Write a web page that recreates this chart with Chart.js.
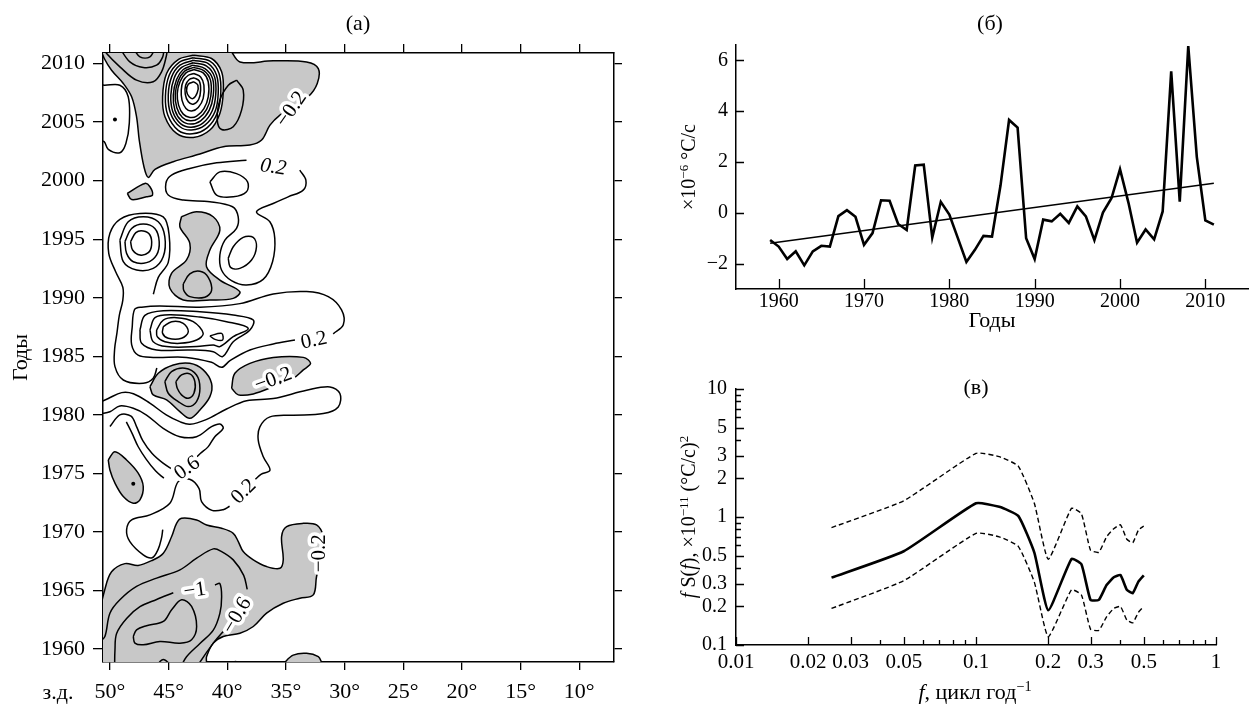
<!DOCTYPE html>
<html lang="ru">
<head>
    <meta charset="UTF-8">
    <title>Годы / спектр</title>
    <script src="https://cdn.jsdelivr.net/npm/chart.js"></script>
    <style>
        body { margin: 0; background: #fff; font-family: "Liberation Serif", serif; }
        #wrap { position: relative; width: 1256px; height: 706px; overflow: hidden; background: #fff; }
        canvas { position: absolute; }
        .txt { position: absolute; font-size: 22px; color: #000; white-space: nowrap; line-height: 1; transform: translate(-50%, -50%); }
        .rot { transform: translate(-50%, -50%) rotate(-90deg); font-size: 20px; }
        sup { font-size: 0.65em; vertical-align: 0.55em; line-height: 0; }
    </style>
</head>
<body>
<div id="wrap">
    <canvas id="mapChart" style="left:0;top:0" width="640" height="706"></canvas>
    <canvas id="seriesChart" style="left:640px;top:0" width="616" height="345"></canvas>
    <canvas id="spectrumChart" style="left:640px;top:345px" width="616" height="361"></canvas>
    <div class="txt" style="left:358px;top:23px">(а)</div>
    <div class="txt" style="left:990px;top:23px">(б)</div>
    <div class="txt" style="left:976px;top:387px">(в)</div>
    <div class="txt" style="left:58px;top:692px">з.д.</div>
    <div class="txt rot" style="left:688px;top:167px">×10<sup>−6</sup> °C/c</div>
    <div class="txt rot" style="left:688px;top:517px"><i>f</i> S(<i>f</i>), ×10<sup>−11</sup> (°C/c)<sup>2</sup></div>
    <div class="txt" style="left:975px;top:692px"><i>f</i>, цикл год<sup>−1</sup></div>
</div>
<script>
    Chart.defaults.font.family = '"Liberation Serif", serif';
    Chart.defaults.color = '#000';

    // ---------- (а) contour map: lon (°W), year ----------
    const lonTicks = [50, 45, 40, 35, 30, 25, 20, 15, 10];
    const yearTicks = [1960, 1965, 1970, 1975, 1980, 1985, 1990, 1995, 2000, 2005, 2010];

    // shaded (negative) areas
    const negTop = [[50.8,2011.3],[40.06,2011.3],[38.92,2010.14],[36.08,2010.23],[33.24,2010.14],[32.24,2009.57],[32.33,2008.3],[33.1,2007.16],[34.38,2006.3],[35.51,2005.6],[36.36,2004.74],[37.07,2003.47],[38.07,2003.04],[40.34,2002.9],[42.33,2002.27],[44.6,2001.62],[46.16,2000.97],[46.73,2000.28],[47.1,2001.19],[47.5,2003.47],[47.73,2005.45],[48.15,2007.16],[48.86,2008.3],[49.86,2009.43],[50.48,2010.43],[50.8,2011.3]];
    const negSmall = [[48.52,1998.91],[47.02,1999.76],[46.59,1999.48],[46.37,1998.77],[46.88,1998.62],[48.15,1998.39],[48.52,1998.91]];
    const negMid = [[43.9,1996.92],[42.62,1997.34],[41.2,1996.92],[40.63,1995.78],[41.48,1994.07],[41.77,1992.65],[40.63,1991.51],[38.93,1990.52],[39.49,1989.95],[41.48,1989.81],[43.75,1989.81],[44.89,1990.81],[44.75,1992.09],[43.47,1993.23],[43.19,1994.65],[44.04,1996.07],[43.9,1996.92]];
    const neg1982 = [[46.59,1982.41],[45.88,1983.55],[44.6,1984.26],[43.19,1984.4],[42.05,1983.84],[41.34,1982.7],[41.48,1981.56],[42.33,1980.42],[43.19,1979.71],[44.04,1980.28],[45.17,1981.28],[46.31,1981.71],[46.59,1982.41]];
    const neg1983E = [[39.63,1982.27],[39.35,1983.55],[38.07,1984.4],[36.08,1984.91],[33.52,1984.91],[32.9,1984.4],[33.52,1983.84],[34.38,1983.12],[36.08,1982.41],[37.78,1981.79],[39.06,1981.71],[39.63,1982.27]];
    const neg1974 = [[50.14,1976.15],[49.57,1976.86],[48.58,1976.15],[47.59,1975.02],[47.16,1973.88],[47.44,1972.74],[48.01,1972.46],[48.86,1973.03],[49.57,1974.17],[50.0,1975.3],[50.14,1976.15]];
    const negBottom = [[50.9,1958.5],[50.9,1962.8],[50.43,1965.1],[49.86,1966.6],[48.72,1967.3],[47.6,1967.15],[46.45,1967.55],[45.45,1968.19],[44.74,1969.61],[44.32,1970.74],[43.89,1971.17],[42.61,1971.03],[41.76,1970.6],[40.48,1970.32],[39.49,1969.89],[39.06,1969.18],[38.64,1968.33],[37.78,1967.62],[36.65,1967.05],[35.51,1966.9],[35.23,1967.62],[35.37,1969.61],[34.94,1970.46],[33.52,1970.74],[32.39,1970.6],[31.82,1969.61],[31.9,1968.2],[32.39,1966.2],[32.67,1964.63],[33.81,1964.35],[35.23,1963.92],[36.65,1963.07],[37.78,1961.93],[38.92,1961.36],[40.34,1961.08],[41.19,1960.51],[41.76,1959.37],[41.9,1958.5],[50.9,1958.5]];
    const negBottomE = [[35.3,1958.5],[35.09,1958.87],[34.38,1959.49],[33.24,1959.64],[32.24,1959.35],[31.96,1958.87],[31.8,1958.5],[35.3,1958.5]];

    // unshaded hole inside the top shaded area
    const peakRing1 = [[42.9,2010.71],[41.34,2010.43],[40.48,2009.29],[40.34,2007.59],[40.63,2005.74],[41.48,2004.32],[42.9,2003.69],[44.32,2004.03],[45.31,2005.45],[45.51,2007.16],[45.17,2009.15],[44.18,2010.34],[42.9,2010.71]];

    // contour lines
    const peakRing1b = [[42.9,2010.5],[41.48,2010.2],[40.7,2009.15],[40.55,2007.5],[40.84,2005.8],[41.7,2004.53],[42.97,2004.0],[44.18,2004.3],[45.07,2005.6],[45.27,2007.23],[44.95,2009.0],[44.1,2010.1],[42.9,2010.5]];
    const peakRing2 = [[42.9,2010.28],[41.62,2010.0],[40.91,2009.0],[40.77,2007.44],[41.05,2005.88],[41.9,2004.74],[43.04,2004.32],[44.03,2004.6],[44.83,2005.74],[45.03,2007.3],[44.74,2008.86],[44.03,2009.86],[42.9,2010.28]];
    const peakRing2b = [[42.9,2010.07],[41.76,2009.78],[41.08,2008.86],[40.98,2007.37],[41.29,2005.95],[42.08,2004.92],[43.08,2004.57],[43.96,2004.85],[44.64,2005.88],[44.81,2007.3],[44.53,2008.75],[43.89,2009.67],[42.9,2010.07]];
    const peakRing3 = [[42.9,2009.86],[41.9,2009.57],[41.25,2008.72],[41.19,2007.3],[41.53,2006.02],[42.27,2005.11],[43.13,2004.83],[43.89,2005.11],[44.46,2006.02],[44.6,2007.3],[44.32,2008.64],[43.75,2009.49],[42.9,2009.86]];
    const peakRing3b = [[42.87,2009.67],[41.97,2009.38],[41.43,2008.58],[41.4,2007.23],[41.76,2006.09],[42.44,2005.31],[43.15,2005.11],[43.82,2005.4],[44.3,2006.23],[44.43,2007.37],[44.17,2008.54],[43.63,2009.35],[42.87,2009.67]];
    const peakRing4 = [[42.84,2009.49],[42.05,2009.2],[41.62,2008.44],[41.62,2007.16],[41.99,2006.16],[42.61,2005.51],[43.18,2005.4],[43.75,2005.68],[44.15,2006.45],[44.26,2007.44],[44.03,2008.44],[43.52,2009.2],[42.84,2009.49]];
    const peakRing5 = [[42.84,2009.15],[42.27,2008.86],[41.99,2008.15],[42.05,2007.02],[42.47,2006.25],[43.04,2005.94],[43.52,2006.16],[43.86,2006.88],[43.92,2007.73],[43.75,2008.52],[43.32,2009.0],[42.84,2009.15]];
    const peakRing6 = [[42.81,2008.78],[42.39,2008.52],[42.27,2007.73],[42.44,2006.93],[42.9,2006.53],[43.32,2006.73],[43.58,2007.39],[43.55,2008.15],[43.24,2008.64],[42.81,2008.78]];
    const peakRing7 = [[42.84,2008.44],[42.5,2008.15],[42.56,2007.5],[42.9,2007.02],[43.24,2007.16],[43.47,2007.67],[43.32,2008.24],[42.84,2008.44]];
    const topArc1 = [[50.5,2011.3],[50.28,2010.85],[49.15,2009.72],[47.73,2008.58],[46.31,2008.44],[45.6,2009.29],[45.2,2010.6],[45.1,2011.3]];
    const topArc2 = [[49.15,2011.3],[48.3,2010.14],[47.16,2009.66],[46.02,2009.86],[45.5,2010.57],[45.4,2011.3]];
    const topArc3 = [[48.0,2011.3],[47.44,2010.57],[46.59,2010.57],[46.16,2011.3]];
    const oval2007E = [[39.2,2008.58],[38.64,2007.73],[38.78,2006.02],[39.49,2004.6],[40.48,2004.37],[40.85,2005.17],[40.63,2006.88],[39.91,2008.15],[39.2,2008.58]];
    const oval2005W = [[50.8,2008.2],[50.48,2008.15],[49.15,2008.15],[48.44,2007.16],[48.35,2004.89],[48.64,2003.18],[49.15,2002.39],[50.14,2002.67],[50.48,2003.32],[50.8,2003.4]];
    const pos1999 = [[33.82,2000.9],[33.3,2000.05],[33.53,1999.19],[34.81,1998.62],[36.09,1998.05],[37.51,1997.34],[36.37,1996.49],[35.95,1995.07],[36.14,1993.08],[36.94,1991.57],[38.36,1991.09],[39.64,1991.46],[40.49,1992.37],[40.63,1993.65],[40.2,1994.93],[39.21,1995.92],[39.07,1996.92],[39.55,1997.77],[41.48,1998.2],[43.75,1998.34],[45.03,1998.77],[45.23,1999.76],[44.75,2000.47],[43.19,2001.04],[40.91,2001.52],[38.36,2001.75]];
    const pos1999Inner = [[41.48,1999.9],[40.63,2000.75],[39.21,2000.6],[38.27,1999.9],[38.36,1999.05],[39.49,1998.62],[40.91,1998.77],[41.48,1999.9]];
    const pos1994Inner = [[39.92,1993.36],[39.49,1994.36],[38.64,1995.16],[37.79,1995.16],[37.51,1994.36],[37.93,1993.22],[38.93,1992.51],[39.72,1992.6],[39.92,1993.36]];
    const neg1991Inner = [[43.75,1991.18],[43.19,1992.04],[42.33,1992.26],[41.62,1991.75],[41.34,1990.61],[41.91,1990.05],[43.19,1990.1],[43.7,1990.61],[43.75,1991.18]];
    const west1995a = [[49.15,1994.93],[48.44,1996.49],[47.16,1996.92],[45.88,1996.49],[45.32,1995.21],[45.46,1993.5],[46.31,1992.51],[47.73,1992.37],[48.86,1993.08],[49.15,1994.93]];
    const west1995b = [[48.72,1994.79],[48.15,1995.92],[47.16,1996.3],[46.17,1995.92],[45.8,1994.79],[46.03,1993.65],[46.88,1993.0],[48.01,1993.08],[48.58,1993.79],[48.72,1994.79]];
    const west1995c = [[48.24,1994.79],[47.79,1995.56],[47.16,1995.7],[46.59,1995.36],[46.45,1994.5],[46.73,1993.85],[47.44,1993.65],[48.07,1994.08],[48.24,1994.79]];
    const westLong = [[46.3,1990.3],[45.88,1991.74],[45.03,1993.02],[44.95,1995.3],[45.46,1996.9],[47.44,1997.2],[49.15,1996.7],[50.0,1995.5],[50.1,1993.8],[49.5,1992.2],[48.9,1990.9],[48.9,1989.8],[49.2,1988.5],[49.4,1987.0],[49.6,1985.6],[49.57,1984.12],[48.86,1982.98],[47.16,1982.7],[46.31,1983.13],[46.0,1984.0]];
    const peak1987a = [[45.45,1987.53],[44.74,1987.96],[43.75,1987.82],[43.32,1987.1],[43.89,1986.54],[45.03,1986.54],[45.51,1986.96],[45.45,1987.53]];
    const peak1987b = [[46.02,1987.25],[45.45,1988.1],[44.32,1988.3],[42.9,1987.96],[42.05,1986.96],[42.61,1986.39],[44.03,1986.11],[45.31,1986.25],[45.97,1986.68],[46.02,1987.25]];
    const peak1987c = [[46.59,1987.25],[46.16,1988.3],[44.89,1988.55],[42.33,1988.35],[40.06,1987.96],[38.21,1987.39],[39.49,1986.68],[40.63,1985.83],[41.19,1985.97],[42.61,1985.83],[45.17,1985.83],[46.31,1986.25],[46.59,1987.25]];
    const peak1987d = [[47.44,1987.25],[47.02,1988.5],[45.45,1988.9],[42.33,1988.8],[39.49,1988.52],[37.78,1988.1],[38.07,1987.25],[39.49,1986.25],[40.4,1984.97],[41.19,1985.4],[43.18,1985.54],[46.02,1985.54],[47.3,1986.11],[47.44,1987.25]];
    const small1986 = [[41.48,1986.74],[40.48,1986.96],[40.4,1986.39],[41.05,1986.45],[41.48,1986.74]];
    const tongue1988 = [[30.97,1986.92],[30.11,1987.69],[30.26,1988.97],[31.39,1990.1],[33.24,1990.53],[36.08,1990.33],[38.92,1989.5],[42.33,1989.2],[45.74,1989.3],[47.3,1989.2],[47.9,1989.0],[48.1,1987.5],[48.15,1986.0],[47.6,1985.1],[46.31,1984.91],[43.47,1984.91],[41.34,1984.49],[40.48,1984.06],[39.77,1984.63],[38.07,1985.54],[36.08,1986.05],[34.23,1986.39]];
    const neg1982Ring = [[45.32,1982.84],[44.75,1983.69],[43.61,1983.98],[42.62,1983.41],[42.33,1982.27],[42.62,1981.14],[43.33,1980.71],[44.18,1981.14],[45.03,1981.85],[45.32,1982.84]];
    const neg1982Inner = [[44.38,1982.84],[43.9,1983.41],[43.19,1983.5],[42.76,1982.84],[42.84,1981.85],[43.33,1981.42],[43.9,1981.71],[44.26,1982.27],[44.38,1982.84]];
    const tongue1981 = [[50.8,1981.1],[50.14,1981.4],[49.0,1981.9],[48.0,1981.8],[46.6,1981.0],[45.2,1980.0],[44.0,1979.4],[43.18,1979.2],[41.8,1979.6],[40.06,1980.5],[38.35,1981.2],[36.08,1981.39],[33.24,1982.1],[31.25,1982.39],[30.4,1981.82],[30.54,1980.68],[31.82,1980.11],[34.38,1979.97],[36.36,1979.83],[37.22,1978.98],[37.36,1977.84],[36.93,1976.42],[36.36,1975.28],[37.13,1974.92],[37.6,1974.5]];
    const line1978a = [[50.8,1980.1],[50.0,1980.27],[49.15,1980.76],[48.01,1980.56],[46.88,1979.99],[45.46,1978.85],[44.04,1978.14],[42.62,1978.14],[41.34,1978.99],[40.63,1979.22],[40.35,1978.85],[41.06,1978.14],[41.62,1977.29],[42.3,1976.7],[42.6,1976.4]];
    const line1978b = [[50.0,1979.0],[49.15,1980.0],[48.2,1979.9],[47.73,1979.0],[47.2,1977.8],[46.4,1976.7],[45.5,1975.9],[44.6,1975.3]];
    const line1978c = [[48.6,1979.4],[48.1,1978.4],[47.6,1977.3],[46.9,1976.2],[46.1,1975.2],[45.4,1974.6]];
    const line1972 = [[39.8,1972.2],[40.35,1971.9],[41.3,1971.85],[42.19,1972.6],[42.4,1973.7],[43.2,1974.5],[44.18,1974.3],[44.89,1972.46],[46.59,1971.46],[48.15,1971.03],[48.58,1970.18],[48.3,1969.18],[47.16,1968.05],[46.4,1967.8],[45.9,1968.5],[45.6,1969.5],[45.5,1970.2]];
    const neg06West = [[50.9,1960.6],[50.43,1961.08],[50.0,1963.07],[49.15,1964.21],[47.73,1965.35],[46.02,1966.06],[44.03,1966.77],[42.61,1967.76],[41.19,1968.56],[40.48,1968.33],[39.49,1967.62],[38.6,1966.3],[38.3,1965.1]];
    const neg06East = [[40.2,1961.6],[40.48,1961.36],[41.19,1960.51],[42.33,1958.88],[42.5,1958.5]];
    const neg1West = [[49.6,1958.5],[49.57,1959.92],[49.43,1961.34],[48.58,1962.62],[47.44,1963.62],[46.02,1964.24],[44.6,1964.81]];
    const neg1East = [[41.05,1965.47],[40.63,1965.6],[40.48,1964.47],[40.63,1963.05],[41.19,1961.62],[42.33,1960.48],[43.47,1959.35],[43.95,1958.5]];
    const neg14 = [[48.01,1961.08],[47.73,1961.65],[46.88,1962.0],[45.45,1962.36],[44.74,1963.36],[43.89,1964.21],[43.04,1963.64],[42.61,1961.93],[43.04,1960.8],[44.03,1960.51],[45.74,1960.65],[47.16,1960.37],[47.87,1960.51],[48.01,1961.08]];
    const negArc1959 = [[46.1,1958.5],[45.45,1959.12],[44.7,1958.5]];
    const negArc1959E = [[39.8,1958.5],[39.3,1958.95],[38.7,1958.5]];
    const extremeDots = [[49.57,2005.23],[48.01,1974.11]];

    const labelText = ['−0.2', '0.2', '0.2', '−0.2', '0.6', '0.2', '−1', '−0.6', '−0.2'];
    const labelLon = [34.52, 36.08, 32.61, 36.08, 43.41, 38.59, 42.76, 39.15, 32.1];
    const labelYear = [2006.08, 2001.14, 1986.34, 1983.0, 1975.44, 1973.45, 1964.99, 1962.86, 1968.19];
    const labelAngle = [-55, 8, -12, -20, -35, -45, -8, -60, -90];
    const labelItalic = [false, true, false, false, false, false, false, false, false];

    // ---------- (б) time series ----------
    const seriesYears = [1959,1960,1961,1962,1963,1964,1965,1966,1967,1968,1969,1970,1971,1972,1973,1974,1975,1976,1977,1978,1979,1980,1981,1982,1983,1984,1985,1986,1987,1988,1989,1990,1991,1992,1993,1994,1995,1996,1997,1998,1999,2000,2001,2002,2003,2004,2005,2006,2007,2008,2009,2010,2011];
    const seriesValues = [-1.07,-1.33,-1.82,-1.52,-2.07,-1.52,-1.3,-1.33,-0.13,0.1,-0.16,-1.26,-0.8,0.49,0.47,-0.44,-0.68,1.86,1.89,-0.98,0.43,-0.07,-1.0,-1.94,-1.46,-0.91,-0.94,1.08,3.65,3.35,-1.0,-1.82,-0.27,-0.34,-0.04,-0.4,0.25,-0.14,-1.08,0.01,0.57,1.71,0.38,-1.18,-0.66,-1.05,0.05,5.56,0.44,6.56,2.2,-0.3,-0.47];
    const trendYears = [1959, 2011];
    const trendValues = [-1.2, 1.16];
    const seriesXTicks = [1960, 1970, 1980, 1990, 2000, 2010];
    const seriesYTicks = [-2, 0, 2, 4, 6];

    // ---------- (в) spectrum ----------
    const specFreq = [0.025,0.05,0.1,0.125,0.15,0.175,0.2,0.25,0.275,0.3,0.325,0.35,0.375,0.4,0.425,0.45,0.475,0.5];
    const specPower = [0.336,0.54,1.28,1.2,1.02,0.527,0.187,0.47,0.427,0.225,0.225,0.294,0.338,0.352,0.27,0.254,0.313,0.35];
    const specUpper = [0.826,1.34,3.14,2.96,2.5,1.28,0.467,1.17,1.06,0.55,0.53,0.7,0.81,0.87,0.67,0.63,0.79,0.85];
    const specLower = [0.193,0.318,0.745,0.7,0.59,0.31,0.116,0.27,0.246,0.133,0.13,0.166,0.193,0.2,0.157,0.149,0.18,0.2];
    const freqTicks = [0.01,0.02,0.03,0.04,0.05,0.06,0.07,0.08,0.09,0.1,0.2,0.3,0.4,0.5,0.6,0.7,0.8,0.9,1];
    const freqLabels = [0.01,0.02,0.03,0.05,0.1,0.2,0.3,0.5,1];
    const powerTicks = [0.1,0.2,0.3,0.4,0.5,0.6,0.7,0.8,0.9,1,2,3,4,5,6,7,8,9,10];
    const powerLabels = [0.1,0.2,0.3,0.5,1,2,3,5,10];

    const toXY = arr => arr.map(p => ({x: p[0], y: p[1]}));
    const minus = v => v < 0 ? '−' + Math.abs(v) : String(v);

    // ---------- build (а) ----------
    const GRAY = '#c8c8c8';
    const grayAreas = [negTop, negSmall, negMid, neg1982, neg1983E, neg1974, negBottom, negBottomE];
    const whiteAreas = [peakRing1];
    const contourLines = [peakRing1b, peakRing2, peakRing2b, peakRing3, peakRing3b, peakRing4, peakRing5, peakRing6, peakRing7,
        topArc1, topArc2, topArc3,
        oval2007E, oval2005W, pos1999, pos1999Inner, pos1994Inner, neg1991Inner, west1995a, west1995b, west1995c, westLong,
        peak1987a, peak1987b, peak1987c, peak1987d, small1986, tongue1988, neg1982Ring, neg1982Inner, tongue1981,
        line1978a, line1978b, line1978c, line1972, neg06West, neg06East, neg1West, neg1East, neg14, negArc1959, negArc1959E];

    const mapSets = [];
    grayAreas.forEach(a => mapSets.push({data: toXY(a), fill: 'shape', backgroundColor: GRAY}));
    whiteAreas.forEach(a => mapSets.push({data: toXY(a), fill: 'shape', backgroundColor: '#fff'}));
    contourLines.forEach(a => mapSets.push({data: toXY(a), fill: false}));
    mapSets.forEach((d, i) => {
        Object.assign(d, {borderColor: '#000', borderWidth: 1.5, pointRadius: 0, tension: 0.35,
            borderJoinStyle: 'round', order: mapSets.length - i});
    });
    mapSets.push({type: 'scatter', data: toXY(extremeDots), pointRadius: 2, backgroundColor: '#000', borderWidth: 0, order: -1});

    const contourLabels = {
        id: 'contourLabels',
        afterDatasetsDraw(chart) {
            const {ctx, chartArea: a, scales: {x, y}} = chart;
            ctx.save();
            ctx.beginPath();
            ctx.rect(a.left, a.top, a.width, a.height);
            ctx.clip();
            labelText.forEach((t, i) => {
                ctx.save();
                ctx.translate(x.getPixelForValue(labelLon[i]), y.getPixelForValue(labelYear[i]));
                ctx.rotate(labelAngle[i] * Math.PI / 180);
                ctx.font = (labelItalic[i] ? 'italic ' : '') + '21px "Liberation Serif"';
                ctx.textAlign = 'center';
                ctx.textBaseline = 'middle';
                ctx.lineJoin = 'round';
                ctx.lineWidth = 7;
                ctx.strokeStyle = '#fff';
                ctx.strokeText(t, 0, 0);
                ctx.fillStyle = '#000';
                ctx.fillText(t, 0, 0);
                ctx.restore();
            });
            ctx.restore();
        }
    };

    const frameGrid = len => ({drawOnChartArea: false, drawTicks: true, tickLength: len, color: '#000', lineWidth: 1.3});
    const frameBorder = {display: true, color: '#000', width: 1.5};
    const setTicks = list => scale => { scale.ticks = list.map(v => ({value: v})); };

    new Chart(document.getElementById('mapChart'), {
        type: 'line',
        data: {datasets: mapSets},
        options: {
            responsive: false,
            animation: false,
            events: [],
            layout: {padding: 0},
            plugins: {legend: {display: false}, tooltip: {enabled: false}},
            scales: {
                x: {
                    type: 'linear', position: 'bottom', reverse: true, min: 7.04, max: 50.59,
                    afterBuildTicks: setTicks(lonTicks),
                    afterFit: s => { s.height = 44; },
                    ticks: {autoSkip: false, maxRotation: 0, padding: 9, font: {size: 22}, callback: v => v + '°'},
                    grid: frameGrid(8), border: frameBorder
                },
                x2: {
                    type: 'linear', position: 'top', reverse: true, min: 7.04, max: 50.59,
                    afterBuildTicks: setTicks(lonTicks),
                    afterFit: s => { s.height = 53; },
                    ticks: {display: false},
                    grid: frameGrid(9), border: frameBorder
                },
                y: {
                    type: 'linear', position: 'left', min: 1958.9, max: 2010.9,
                    afterBuildTicks: setTicks(yearTicks),
                    afterFit: s => { s.width = 103; },
                    ticks: {autoSkip: false, padding: 8, font: {size: 22}, callback: v => String(v)},
                    title: {display: true, text: 'Годы', font: {size: 22}, padding: {top: 8, bottom: 0}},
                    grid: frameGrid(10), border: frameBorder
                },
                y2: {
                    type: 'linear', position: 'right', min: 1958.9, max: 2010.9,
                    afterBuildTicks: setTicks(yearTicks),
                    afterFit: s => { s.width = 26; },
                    ticks: {display: false},
                    grid: frameGrid(8), border: frameBorder
                }
            }
        },
        plugins: [contourLabels]
    });

    // ---------- inner tick marks for (б) and (в) ----------
    const innerTicks = {
        id: 'innerTicks',
        afterDraw(chart, args, o) {
            const {ctx, chartArea: a, scales: {x, y}} = chart;
            ctx.save();
            ctx.strokeStyle = '#000';
            ctx.lineWidth = 1.3;
            ctx.beginPath();
            x.ticks.forEach(t => {
                const len = !o.xMajor || o.xMajor.includes(t.value) ? o.xLen : o.xMinorLen;
                const px = Math.round(x.getPixelForValue(t.value)) + 0.5;
                ctx.moveTo(px, a.bottom);
                ctx.lineTo(px, a.bottom - len);
            });
            y.ticks.forEach(t => {
                const len = !o.yMajor || o.yMajor.includes(t.value) ? o.yLen : o.yMinorLen;
                const py = Math.round(y.getPixelForValue(t.value)) + 0.5;
                ctx.moveTo(a.left, py);
                ctx.lineTo(a.left + len, py);
            });
            ctx.stroke();
            ctx.restore();
        }
    };
    const plainGrid = {display: false, drawTicks: false};

    // ---------- build (б) ----------
    new Chart(document.getElementById('seriesChart'), {
        type: 'line',
        data: {
            datasets: [{
                data: seriesYears.map((yr, i) => ({x: yr, y: seriesValues[i]})),
                borderColor: '#000', borderWidth: 2.6, pointRadius: 0, tension: 0, borderJoinStyle: 'miter'
            }, {
                data: trendYears.map((yr, i) => ({x: yr, y: trendValues[i]})),
                borderColor: '#000', borderWidth: 1.4, pointRadius: 0
            }]
        },
        options: {
            responsive: false,
            animation: false,
            events: [],
            layout: {padding: {top: 45, right: 8, left: 0, bottom: 0}},
            plugins: {legend: {display: false}, tooltip: {enabled: false},
                innerTicks: {xLen: 10, yLen: 8}},
            scales: {
                x: {
                    type: 'linear', min: 1955, max: 2015,
                    afterBuildTicks: setTicks(seriesXTicks),
                    afterFit: s => { s.height = 56; },
                    ticks: {autoSkip: false, maxRotation: 0, padding: 1, font: {size: 20}, callback: v => String(v)},
                    title: {display: true, text: 'Годы', font: {size: 22}, padding: {top: 0, bottom: 11}},
                    grid: plainGrid, border: frameBorder
                },
                y: {
                    type: 'linear', min: -3, max: 6.6,
                    afterBuildTicks: setTicks(seriesYTicks),
                    afterFit: s => { s.width = 96; },
                    ticks: {autoSkip: false, padding: 8, font: {size: 20}, callback: minus},
                    grid: plainGrid, border: frameBorder
                }
            }
        },
        plugins: [innerTicks]
    });

    // ---------- build (в) ----------
    const specPts = vals => specFreq.map((f, i) => ({x: f, y: vals[i]}));
    new Chart(document.getElementById('spectrumChart'), {
        type: 'line',
        data: {
            datasets: [{
                data: specPts(specPower),
                borderColor: '#000', borderWidth: 2.6, pointRadius: 0, tension: 0.15
            }, {
                data: specPts(specUpper),
                borderColor: '#000', borderWidth: 1.4, borderDash: [5, 3], pointRadius: 0, tension: 0.15
            }, {
                data: specPts(specLower),
                borderColor: '#000', borderWidth: 1.4, borderDash: [5, 3], pointRadius: 0, tension: 0.15
            }]
        },
        options: {
            responsive: false,
            animation: false,
            events: [],
            layout: {padding: {top: 44, right: 40, left: 0, bottom: 0}},
            plugins: {legend: {display: false}, tooltip: {enabled: false},
                innerTicks: {xLen: 8, xMinorLen: 5, yLen: 8, yMinorLen: 5, xMajor: freqLabels, yMajor: powerLabels}},
            scales: {
                x: {
                    type: 'logarithmic', min: 0.01, max: 1,
                    afterBuildTicks: setTicks(freqTicks),
                    afterFit: s => { s.height = 61; },
                    ticks: {autoSkip: false, maxRotation: 0, padding: 5, font: {size: 21},
                        callback: v => freqLabels.includes(v) ? String(v) : ''},
                    grid: plainGrid, border: frameBorder
                },
                y: {
                    type: 'logarithmic', min: 0.1, max: 10,
                    afterBuildTicks: setTicks(powerTicks),
                    afterFit: s => { s.width = 96; },
                    ticks: {autoSkip: false, padding: 9, font: {size: 20},
                        callback: v => powerLabels.includes(v) ? String(v) : ''},
                    grid: plainGrid, border: frameBorder
                }
            }
        },
        plugins: [innerTicks]
    });
</script>
</body>
</html>
